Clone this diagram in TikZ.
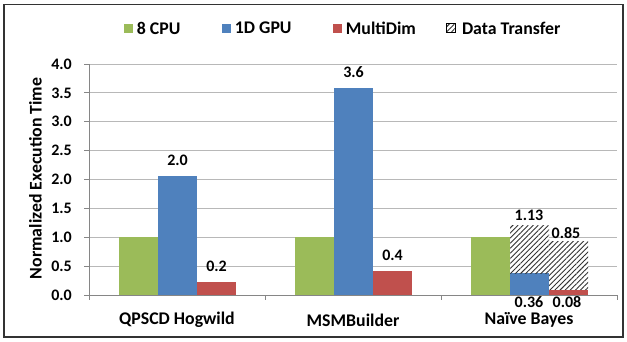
\documentclass[tikz,border=0pt]{standalone}
\usepackage{fontspec}
\setmainfont{Carlito}
\usetikzlibrary{positioning, patterns.meta}
\definecolor{cpugreen}{HTML}{9BBB59}
\definecolor{gpublue}{HTML}{4F81BD}
\definecolor{dimred}{HTML}{C0504D}
\definecolor{gridgray}{HTML}{B8B8B8}
\definecolor{axisgray}{HTML}{868686}

\begin{document}
\begin{tikzpicture}[
        x=1pt, y=-1pt,
        ticklbl/.style={font=\bfseries\fontsize{16}{18}\selectfont, inner sep=0pt, anchor=east},
        vallbl/.style={font=\bfseries\fontsize{16}{18}\selectfont, inner sep=0pt},
        catlbl/.style={font=\bfseries\fontsize{17.8}{20}\selectfont, inner sep=0pt},
        legtext/.style={font=\bfseries\fontsize{17.8}{20}\selectfont, inner sep=0pt, anchor=west},
        legbox/.style={minimum size=9pt, inner sep=0pt},
        hatch/.style={pattern={Lines[angle=45, distance=3.6pt, line width=0.9pt]}, pattern color=black!80},
        gridline/.style={gridgray, line width=1pt},
        axisline/.style={axisgray, line width=1pt}
    ]
        \useasboundingbox (0,0) rectangle (627,341);
        \draw[black!80, line width=1.4pt] (4,4.5) rectangle (623,337);

        % Gridlines and axis
        \foreach \v in {0.5,1.0,...,4.0}
            \draw[gridline] (89,{295-57.75*\v}) -- (617,{295-57.75*\v});
        \draw[axisline] (89,64) -- (89,295) -- (617,295);
        \foreach \v in {0.0,0.5,...,4.0}
            \draw[axisline] (84,{295-57.75*\v}) -- (89,{295-57.75*\v});
        \foreach \x in {89,265,441,617}
            \draw[axisline] (\x,295) -- (\x,300);

        % Tick labels
        \foreach \v [count=\i] in {0.0,0.5,1.0,1.5,2.0,2.5,3.0,3.5,4.0}
            \node[ticklbl] (tick\i) at (72,{295-57.75*\v}) {\v};
        \node[rotate=90, catlbl] (ytitle) at (35.5,178.5) {Normalized Execution Time};

        % Bars
        \foreach \cx/\v/\col in {138.5/1.0/cpugreen, 177.5/2.06/gpublue, 216.5/0.23/dimred,
                                314.5/1.0/cpugreen, 353.5/3.58/gpublue, 392.5/0.415/dimred,
                                490.5/1.0/cpugreen, 529.5/0.376/gpublue, 568.5/0.087/dimred}
            \fill[\col] (\cx-19.5,295) rectangle (\cx+19.5,{295-57.75*\v});

        % Data transfer on top
        \fill[white] (510,{295-57.75*0.376}) rectangle (549,{295-57.75*1.195});
        \fill[hatch] (510,{295-57.75*0.376}) rectangle (549,{295-57.75*1.195});
        \fill[white] (549,{295-57.75*0.087}) rectangle (588,{295-57.75*0.923});
        \fill[hatch] (549,{295-57.75*0.087}) rectangle (588,{295-57.75*0.923});

        % Value labels
        \node[vallbl] (qgpu) at (177.5,160) {2.0};
        \node[vallbl] (qdim) at (216.5,266) {0.2};
        \node[vallbl] (mgpu) at (353.5,72) {3.6};
        \node[vallbl] (mdim) at (392.5,255) {0.4};
        \node[vallbl] (ntot) at (529,215) {1.13};
        \node[vallbl] (ndtot) at (566,233) {0.85};
        \node[vallbl] (ngpu) at (529,302) {0.36};
        \node[vallbl] (ndim) at (567,302) {0.08};

        % Categories
        \node[catlbl] (qpscd) at (177,320) {QPSCD Hogwild};
        \node[catlbl] (msm) at (353,320) {MSMBuilder};
        \node[catlbl] (bayes) at (529,320) {Naïve Bayes};

        % Legend
        \node[legbox, fill=cpugreen] (sqcpu) at (128,28) {};
        \node[legtext, right=4pt of sqcpu] (lcpu) {8 CPU};
        \node[legbox, fill=gpublue] (sqgpu) at (226,28) {};
        \node[legtext, right=4pt of sqgpu] (lgpu) {1D GPU};
        \node[legbox, fill=dimred] (sqdim) at (337,28) {};
        \node[legtext, right=4pt of sqdim] (ldim) {MultiDim};
        \node[legbox, hatch, draw=black, line width=0.6pt] (sqdt) at (451,28) {};
        \node[legtext, right=6pt of sqdt] (ldt) {Data Transfer};
\end{tikzpicture}
\end{document}
